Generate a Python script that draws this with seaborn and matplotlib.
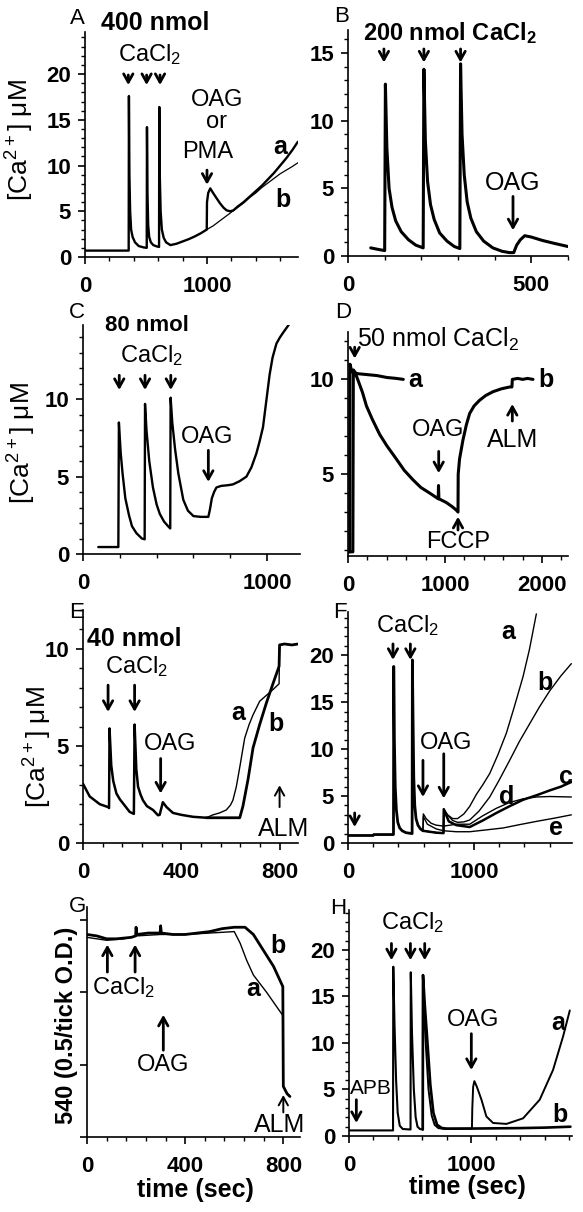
import matplotlib
matplotlib.use("Agg")
import matplotlib.pyplot as plt
from matplotlib.ticker import MultipleLocator
import seaborn as sns

# ------------------------
# traces (time in s, [Ca2+] in uM, or O.D. for G)

A_t_a = [0, 358, 360, 364, 370, 378, 390, 410, 440, 480,
         506, 508, 512, 518, 526, 540, 560, 590,
         607, 609, 613, 620, 630, 645, 665,
         700, 750, 800, 850, 900, 950, 998,
         1000, 1010, 1027, 1050, 1075, 1105, 1135, 1161, 1190, 1216,
         1250, 1300, 1350, 1400, 1450, 1500, 1550, 1600, 1650, 1700, 1745]
A_a = [0.7, 0.7, 17.6, 9.0, 5.0, 3.0, 2.2, 1.6, 1.2, 1.05,
       1.0, 14.2, 7.0, 3.5, 2.2, 1.6, 1.3, 1.15,
       1.1, 16.4, 9.0, 5.0, 3.0, 2.1, 1.6,
       1.3, 1.45, 1.7, 1.95, 2.25, 2.6, 3.0,
       6.0, 7.0, 7.5, 7.0, 6.5, 5.9, 5.4, 5.1, 5.0, 5.1,
       5.5, 6.0, 6.6, 7.2, 7.8, 8.5, 9.2, 10.0, 10.8, 11.7, 12.6]
A_t_b = [998, 1050, 1100, 1150, 1200, 1250, 1300, 1350, 1400, 1450, 1500, 1550, 1600, 1650, 1700, 1745]
A_b = [3.0, 3.4, 3.9, 4.4, 4.9, 5.4, 5.9, 6.5, 7.0, 7.6, 8.1, 8.6, 9.1, 9.5, 9.9, 10.3]

B_t = [62, 80, 100, 102, 106, 112, 120, 130, 145, 165, 185, 205,
       207, 211, 217, 225, 235, 250, 270, 290, 305,
       307, 311, 317, 325, 335, 350, 370, 395, 420, 440, 452,
       460, 470, 482, 500, 530, 560, 600]
B_v = [0.6, 0.5, 0.4, 12.7, 8.0, 5.0, 3.6, 2.6, 1.8, 1.2, 0.8, 0.6,
       13.8, 8.5, 5.5, 3.8, 2.7, 1.7, 1.1, 0.7, 0.55,
       14.2, 9.0, 6.0, 4.0, 2.8, 1.8, 1.1, 0.6, 0.35, 0.25, 0.25,
       0.8, 1.2, 1.5, 1.4, 1.15, 0.95, 0.7]

C_t = [83, 192, 195, 205, 215, 230, 250, 266, 290, 320, 335,
       337, 345, 360, 380, 400, 417, 440, 462, 474,
       476, 485, 500, 518, 545, 570, 600, 640, 681,
       690, 700, 712, 725, 750, 790, 815, 850, 888,
       915, 942, 960, 978, 996, 1014, 1030, 1051, 1070, 1087, 1105, 1123]
C_v = [0.45, 0.45, 8.5, 6.5, 5.2, 3.6, 2.5, 1.8, 1.35, 1.0, 0.95,
       9.7, 8.0, 6.0, 4.3, 3.2, 2.6, 2.1, 1.8, 1.65,
       10.1, 8.5, 6.8, 5.2, 3.5, 2.8, 2.45, 2.4, 2.4,
       2.9, 3.6, 4.0, 4.3, 4.4, 4.45, 4.5, 4.7, 5.0,
       5.6, 6.5, 7.3, 8.2, 9.9, 11.6, 12.7, 13.6, 14.0, 14.3, 14.6, 14.9]

D_t_a = [0, 18, 20, 40, 100, 200, 300, 400, 500, 570]
D_a = [0.9, 0.9, 10.8, 10.4, 10.3, 10.25, 10.2, 10.1, 10.05, 10.0]
D_t_b = [0, 50, 55, 70, 100, 150, 190, 250, 326, 400,
         498, 580, 670, 750, 842, 930, 933, 937, 1014, 1070,
         1117, 1134, 1136, 1150, 1185, 1220, 1254, 1300, 1357, 1420,
         1495, 1580, 1667, 1690, 1694, 1750, 1800, 1850, 1907]
D_b = [0.9, 0.9, 10.5, 10.4, 10.0, 9.3, 8.6, 7.9, 7.1, 6.5,
       5.8, 5.2, 4.7, 4.3, 4.0, 3.7, 4.4, 3.7, 3.5, 3.3,
       3.1, 3.0, 5.0, 5.8, 6.8, 7.6, 8.2, 8.6, 8.9, 9.15,
       9.35, 9.5, 9.6, 9.6, 10.0, 10.05, 10.0, 10.05, 10.0]

E_t = [0, 27, 68, 102, 106, 108, 115, 123, 136, 150,
       163, 190, 207, 210, 217, 224, 234, 244, 260, 285,
       305, 312, 325, 340, 366, 400, 447, 502]
E_v = [3.05, 2.4, 2.0, 1.85, 1.8, 5.9, 4.0, 3.2, 2.55, 2.25,
       2.04, 1.6, 1.5, 6.1, 3.8, 2.9, 2.5, 2.2, 1.9, 1.7,
       1.43, 1.45, 2.1, 1.85, 1.55, 1.45, 1.35, 1.3]
E_t_a = [502, 529, 556, 583, 600, 610, 624, 638, 658, 676, 692, 719, 746, 773, 798, 800, 820]
E_a = [1.3, 1.45, 1.55, 1.7, 1.95, 2.2, 2.9, 3.9, 5.4, 6.1, 6.6, 7.3, 7.6, 7.9, 8.2, 10.2, 10.25]
E_t_b = [502, 550, 600, 638, 651, 672, 692, 719, 746, 773, 798, 800, 820, 850, 875]
E_b = [1.3, 1.3, 1.3, 1.3, 1.9, 3.3, 4.9, 6.1, 7.2, 8.2, 9.1, 10.2, 10.25, 10.2, 10.25]

F_t = [0, 200, 205, 361, 363, 368, 375, 384, 395, 410,
       430, 460, 509, 511, 516, 522, 530, 540, 555, 575, 595]
F_v = [0.8, 0.8, 0.9, 0.9, 18.8, 11.0, 6.0, 3.5, 2.2, 1.6,
       1.3, 1.1, 1.0, 19.5, 13.5, 7.0, 4.0, 2.6, 1.9, 1.5, 1.3]
F_t_a = [595, 700, 758, 760, 790, 830, 870, 920, 966, 1020, 1070, 1125, 1190, 1257, 1320, 1389, 1440, 1495]
F_a = [1.3, 1.1, 1.05, 3.6, 3.0, 2.6, 2.6, 3.1, 3.9, 5.2, 6.2, 7.4, 9.4, 11.7, 14.5, 17.7, 20.6, 24.4]
F_t_b = [595, 700, 758, 760, 790, 830, 870, 920, 966, 1040, 1125, 1200, 1283, 1360, 1442, 1520, 1601, 1690, 1773]
F_b = [1.3, 1.1, 1.05, 3.6, 3.0, 2.4, 2.2, 2.25, 2.45, 3.4, 4.9, 6.7, 8.8, 10.8, 12.7, 14.5, 16.2, 17.8, 19.1]
F_t_c = [595, 700, 758, 760, 800, 860, 966, 1070, 1178, 1280, 1389, 1500, 1601, 1690, 1773]
F_c = [1.3, 1.1, 1.05, 3.6, 2.3, 1.9, 1.7, 2.4, 3.2, 3.9, 4.6, 5.1, 5.6, 6.0, 6.5]
F_t_d = [595, 598, 620, 660, 700, 760, 860, 966, 1070, 1178, 1280, 1389, 1495, 1601, 1773]
F_d = [1.3, 3.1, 2.6, 2.1, 1.9, 1.8, 2.0, 2.0, 2.9, 3.7, 4.3, 4.7, 4.9, 4.95, 4.9]
F_t_e = [595, 598, 630, 700, 760, 860, 966, 1100, 1231, 1360, 1495, 1640, 1773]
F_e = [1.3, 2.8, 2.0, 1.5, 1.3, 1.2, 1.2, 1.4, 1.6, 1.95, 2.3, 2.65, 3.0]

G_t_b = [0, 40, 80, 120, 180, 198, 200, 203, 250, 298,
         300, 303, 350, 400, 450, 500, 550, 600, 644, 678,
         719, 760, 798, 800, 815, 827]
G_b = [1.40, 1.39, 1.37, 1.37, 1.38, 1.39, 1.45, 1.40, 1.41, 1.41,
       1.46, 1.41, 1.40, 1.40, 1.41, 1.42, 1.44, 1.45, 1.45, 1.40,
       1.29, 1.18, 1.04, 0.35, 0.30, 0.28]
G_t_a = [0, 80, 150, 200, 300, 400, 500, 600, 624, 651, 678, 732, 798, 800]
G_a = [1.38, 1.36, 1.37, 1.39, 1.40, 1.40, 1.41, 1.42, 1.34, 1.22, 1.12, 1.0, 0.84, 0.4]

H_t = [0, 360, 362, 372, 385, 398, 415, 440, 503, 505, 515, 530, 545, 560, 580, 603]
H_v = [0.6, 0.6, 18.2, 12.0, 6.0, 2.5, 1.1, 0.75, 0.7, 17.6, 11.0, 5.0, 2.0, 1.0, 0.75, 0.7]
H_t_a = [603, 605, 615, 628, 650, 676, 700, 730, 790, 1005,
         1008, 1015, 1025, 1045, 1083, 1123, 1178, 1287, 1423, 1559,
         1668, 1750, 1805]
H_a = [0.7, 17.3, 13.0, 9.8, 5.0, 2.2, 1.2, 0.85, 0.75, 0.8,
       3.0, 5.3, 5.9, 5.3, 3.9, 2.1, 1.4, 1.3, 1.9, 3.9,
       7.1, 10.7, 13.5]
H_t_b = [603, 605, 620, 640, 665, 690, 720, 760, 800, 1000, 1400, 1600, 1810]
H_b = [0.7, 17.3, 14.0, 10.3, 5.5, 2.5, 1.2, 0.85, 0.8, 0.8, 0.85, 0.9, 1.0]

# ------------------------

sns.set_theme(style="ticks", rc={"axes.edgecolor": "black", "xtick.color": "black",
                                  "ytick.color": "black", "axes.linewidth": 1.2,
                                  "text.color": "black", "axes.labelcolor": "black"})
plt.rcParams['font.family'] = ['Liberation Sans', 'DejaVu Sans']
plt.rcParams['mathtext.default'] = 'regular'

W, H = 583, 1212
fig = plt.figure(figsize=(W / 100, H / 100), dpi=100)


def make_ax(left, top, right, bottom):
    return fig.add_axes([left / W, 1 - bottom / H, (right - left) / W, (bottom - top) / H])


def trace(ax, t, v, lw=1.5):
    sns.lineplot(x=t, y=v, ax=ax, color="black", linewidth=lw,
                 estimator=None, sort=False, legend=False)


def style(ax, xlim, ylim, xmaj, xmin, ymaj, ymin, ylabels=True):
    ax.set_xlim(*xlim)
    ax.set_ylim(*ylim)
    ax.xaxis.set_major_locator(MultipleLocator(xmaj))
    ax.xaxis.set_minor_locator(MultipleLocator(xmin))
    ax.yaxis.set_major_locator(MultipleLocator(ymaj))
    if ymin:
        ax.yaxis.set_minor_locator(MultipleLocator(ymin))
    sns.despine(ax=ax)
    ax.tick_params(which="major", direction="out", length=5, width=1.2,
                   labelsize=16, labelcolor="black")
    ax.tick_params(which="minor", direction="out", length=3, width=1.0)
    ax.tick_params(axis="x", pad=9)
    ax.tick_params(axis="y", pad=5)
    ax.set_xlabel("")
    ax.set_ylabel("")
    for lab in ax.get_xticklabels() + ax.get_yticklabels():
        lab.set_fontweight("bold")
    if not ylabels:
        ax.set_yticklabels([])


def arrow(ax, t, v0, v1, lw=2.0):
    ax.annotate("", xy=(t, v1), xytext=(t, v0), annotation_clip=False,
                arrowprops=dict(arrowstyle="->,head_length=0.5,head_width=0.28",
                                lw=lw, color="black", shrinkA=0, shrinkB=0))


def txt(ax, t, v, s, size=17, bold=False):
    ax.text(t, v, s, ha="center", va="center", fontsize=size,
            fontweight="bold" if bold else "normal", color="black")


def letter(ax, t, v, s):
    txt(ax, t, v, s, 18, True)


# ---- A
ax = make_ax(85, 32, 298, 257)
trace(ax, A_t_a, A_a, 1.7)
trace(ax, A_t_b, A_b, 0.9)
style(ax, (0, 1746), (0, 24.6), 1000, 200, 5, 1)
txt(ax, 574, 25.6, "400 nmol", 18, True)
txt(ax, 533, 22.1, "CaCl$_2$")
for t in (355, 505, 615):
    arrow(ax, t, 19.9, 18.8)
txt(ax, 1082, 17.2, "OAG")
txt(ax, 1082, 14.8, "or")
txt(ax, 1008, 11.5, "PMA")
arrow(ax, 1000, 9.5, 7.9)
letter(ax, 1598, 12.0, "a")
letter(ax, 1623, 6.2, "b")

# ---- B
ax = make_ax(348, 30, 568, 256)
trace(ax, B_t, B_v, 2.2)
style(ax, (0, 600), (0, 16.7), 500, 100, 5, 1)
txt(ax, 277, 16.5, "200 nmol CaCl$_2$", 17, True)
for t in (98, 207, 307):
    arrow(ax, t, 15.3, 14.3)
txt(ax, 449, 5.4, "OAG", 18)
arrow(ax, 450, 4.4, 1.9)

# ---- C
ax = make_ax(83, 325, 300, 554)
trace(ax, C_t, C_v, 1.7)
style(ax, (0, 1179), (0, 14.8), 1000, 200, 5, 1)
txt(ax, 346, 14.8, "80 nmol", 16, True)
txt(ax, 373, 12.8, "CaCl$_2$")
for t in (197, 337, 477):
    arrow(ax, t, 11.55, 10.6)
txt(ax, 672, 7.57, "OAG")
arrow(ax, 681, 6.7, 4.66)

# ---- D
ax = make_ax(348, 332, 568, 556)
trace(ax, D_t_a, D_a, 2.2)
trace(ax, D_t_b, D_b, 2.2)
style(ax, (0, 2268), (0.68, 12.5), 1000, 200, 5, 1)
txt(ax, 928, 12.1, "50 nmol CaCl$_2$", 18)
arrow(ax, 69, 11.7, 11.1)
letter(ax, 688, 9.95, "a")
letter(ax, 2045, 9.95, "b")
txt(ax, 929, 7.33, "OAG")
arrow(ax, 935, 6.2, 5.05)
txt(ax, 1134, 1.42, "FCCP")
arrow(ax, 1134, 2.05, 2.75)
txt(ax, 1701, 6.8, "ALM", 18)
arrow(ax, 1694, 7.8, 8.7)

# ---- E
ax = make_ax(83, 610, 298, 843)
trace(ax, E_t, E_v, 1.8)
trace(ax, E_t_a, E_a, 1.0)
trace(ax, E_t_b, E_b, 2.0)
style(ax, (0, 875), (0, 12.0), 400, 80, 5, 1)
txt(ax, 210, 10.5, "40 nmol", 18, True)
txt(ax, 217, 9.07, "CaCl$_2$")
for t in (102, 210):
    arrow(ax, t, 8.13, 6.75)
txt(ax, 353, 5.1, "OAG")
arrow(ax, 316, 4.35, 2.55)
letter(ax, 631, 6.67, "a")
letter(ax, 787, 6.15, "b")
arrow(ax, 800, 1.85, 2.97, 1.4)
txt(ax, 815, 0.74, "ALM", 18)

# ---- F
ax = make_ax(348, 612, 572, 843)
trace(ax, F_t, F_v, 2.0)
trace(ax, F_t_a, F_a, 1.0)
trace(ax, F_t_b, F_b, 1.0)
trace(ax, F_t_c, F_c, 1.8)
trace(ax, F_t_d, F_d, 1.0)
trace(ax, F_t_e, F_e, 1.0)
style(ax, (0, 1778), (0, 24.6), 1000, 200, 5, 1)
txt(ax, 476, 23.2, "CaCl$_2$")
for t in (357, 495):
    arrow(ax, t, 21.2, 19.5)
txt(ax, 781, 10.6, "OAG")
arrow(ax, 595, 8.8, 4.9)
arrow(ax, 760, 9.5, 4.75)
arrow(ax, 53, 3.2, 1.7)
for t, v, s in ((1270, 22.5, "a"), (1561, 17.0, "b"), (1733, 7.05, "c"),
                (1257, 4.93, "d"), (1654, 1.56, "e")):
    letter(ax, t, v, s)

# ---- G
ax = make_ax(87, 907, 300, 1137)
trace(ax, G_t_b, G_b, 2.0)
trace(ax, G_t_a, G_a, 1.0)
style(ax, (0, 868), (0, 1.59), 400, 80, 0.5, None, ylabels=False)
for t in (83, 196):
    arrow(ax, t, 1.14, 1.33)
txt(ax, 148, 1.03, "CaCl$_2$")
arrow(ax, 311, 0.60, 0.845)
txt(ax, 311, 0.50, "OAG")
letter(ax, 678, 1.02, "a")
letter(ax, 780, 1.32, "b")
arrow(ax, 800, 0.17, 0.29, 1.4)
txt(ax, 786, 0.08, "ALM", 18)

# ---- H
ax = make_ax(349, 910, 572, 1136)
trace(ax, H_t, H_v, 1.5)
trace(ax, H_t_a, H_a, 1.4)
trace(ax, H_t_b, H_b, 1.9)
style(ax, (0, 1823), (0, 24.3), 1000, 200, 5, 1)
txt(ax, 523, 22.9, "CaCl$_2$")
for t in (347, 502, 619):
    arrow(ax, t, 20.7, 18.9)
txt(ax, 1014, 12.5, "OAG")
arrow(ax, 1000, 11.0, 7.1)
txt(ax, 183, 5.1, "APB", 15)
arrow(ax, 60, 3.9, 1.4)
letter(ax, 1709, 12.1, "a")
letter(ax, 1723, 2.26, "b")

# ---- panel letters and shared labels
for s, x, y in (("A", 77, 18), ("B", 342, 17), ("C", 77, 313), ("D", 343, 313),
                ("E", 77, 613), ("F", 340, 613), ("G", 77, 907), ("H", 338, 908)):
    fig.text(x / W, 1 - y / H, s, ha="center", va="center", fontsize=16, color="black")

for x, y in ((20, 140), (22, 443), (38, 747)):
    fig.text(x / W, 1 - y / H, "[Ca$^{2+}$] \u03bcM", rotation=90,
             ha="center", va="center", fontsize=19, color="black")
fig.text(66 / W, 1 - 1025 / H, "540 (0.5/tick O.D.)", rotation=90,
         ha="center", va="center", fontsize=17, fontweight="bold", color="black")
fig.text(195 / W, 1 - 1190 / H, "time (sec)", ha="center", va="center",
         fontsize=18, fontweight="bold", color="black")
fig.text(467 / W, 1 - 1187 / H, "time (sec)", ha="center", va="center",
         fontsize=18, fontweight="bold", color="black")

fig.savefig("out.png", dpi=100)
